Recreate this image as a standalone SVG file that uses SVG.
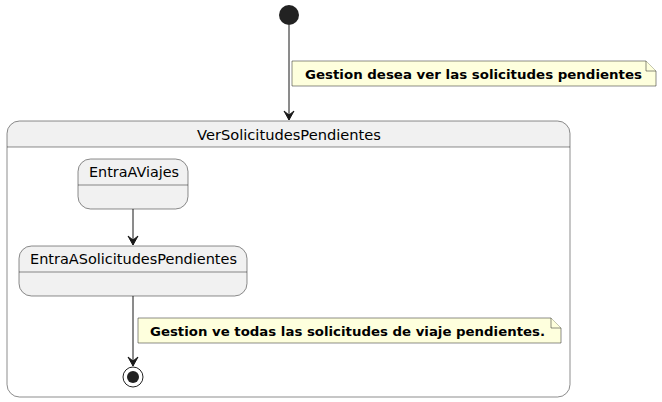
<svg xmlns="http://www.w3.org/2000/svg" width="662" height="402" viewBox="0 0 662 402">
<defs>
<style>
.st{fill:#F1F1F1;stroke:#181818;stroke-width:0.5}
.ln{stroke:#181818;stroke-width:1;fill:none}
.t{font-family:"DejaVu Sans",sans-serif;font-size:14px;fill:#000}
.nt{font-family:"DejaVu Sans",sans-serif;font-size:13px;font-weight:bold;fill:#000}
.note{fill:#FEFFDD;stroke:#181818;stroke-width:0.5}
</style>
<marker id="arr" viewBox="0 0 12 12" refX="10" refY="6" markerWidth="12" markerHeight="12" orient="auto" markerUnits="userSpaceOnUse">
<path d="M1,1 L10,6 L1,11 L5,6 Z" fill="#181818" stroke="#181818" stroke-width="1"/>
</marker>
</defs>
<rect width="662" height="402" fill="#fff"/>
<g id="composite">
<rect x="7" y="121" width="563" height="276" rx="12.5" ry="12.5" fill="#fff" stroke="none"/>
<path d="M7,147 L7,133.5 A12.5,12.5 0 0 1 19.5,121 L557.5,121 A12.5,12.5 0 0 1 570,133.5 L570,147 Z" fill="#F1F1F1"/>
<rect x="7" y="121" width="563" height="276" rx="12.5" ry="12.5" fill="none" stroke="#181818" stroke-width="0.5"/>
<line class="ln" x1="7" y1="147" x2="570" y2="147" style="stroke-width:0.5"/>
<text class="t" x="197" y="140" textLength="184" lengthAdjust="spacingAndGlyphs">VerSolicitudesPendientes</text>
</g>
<g id="start">
<circle cx="289" cy="15" r="10" fill="#222222"/>
</g>
<g id="EntraAViajes">
<rect class="st" x="78" y="159" width="110" height="50" rx="12.5" ry="12.5"/>
<line class="ln" x1="78" y1="185" x2="188" y2="185" style="stroke-width:0.5"/>
<text class="t" x="89" y="177" textLength="90" lengthAdjust="spacingAndGlyphs">EntraAViajes</text>
</g>
<g id="EntraASolicitudesPendientes">
<rect class="st" x="19" y="246" width="228" height="50" rx="12.5" ry="12.5"/>
<line class="ln" x1="19" y1="272" x2="247" y2="272" style="stroke-width:0.5"/>
<text class="t" x="30" y="264" textLength="207" lengthAdjust="spacingAndGlyphs">EntraASolicitudesPendientes</text>
</g>
<g id="end">
<circle cx="133" cy="377" r="10" fill="#fff" stroke="#222222" stroke-width="1"/>
<circle cx="133" cy="377" r="6" fill="#222222"/>
</g>
<g id="connectors">
<line class="ln" x1="289" y1="25" x2="289" y2="120" marker-end="url(#arr)"/>
<line class="ln" x1="133" y1="209" x2="133" y2="245" marker-end="url(#arr)"/>
<line class="ln" x1="133" y1="296" x2="133" y2="366" marker-end="url(#arr)"/>
</g>
<g id="note1">
<path class="note" d="M292,61 L646,61 L656,71 L656,86 L292,86 Z"/>
<path class="note" d="M646,61 L646,71 L656,71"/>
<text class="nt" x="305" y="79" textLength="337" lengthAdjust="spacingAndGlyphs">Gestion desea ver las solicitudes pendientes</text>
</g>
<g id="note2">
<path class="note" d="M138,318 L551,318 L561,328 L561,343 L138,343 Z"/>
<path class="note" d="M551,318 L551,328 L561,328"/>
<text class="nt" x="150" y="336" textLength="395" lengthAdjust="spacingAndGlyphs">Gestion ve todas las solicitudes de viaje pendientes.</text>
</g>
</svg>
